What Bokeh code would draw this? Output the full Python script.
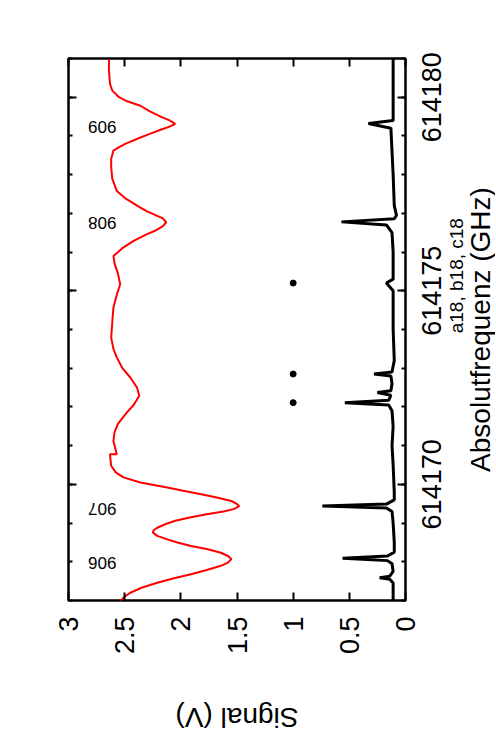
import math
from bokeh.plotting import figure
from bokeh.models import (Range1d, FixedTicker, LinearAxis, Label,
                          CustomJSTickFormatter, CustomLabelingPolicy, ColumnDataSource)
from bokeh.core.properties import value
from bokeh.embed import file_html
from bokeh.resources import INLINE

FONT = "Liberation Sans"

# Red trace (reference signal): frequency (GHz) and signal (V)
red_freq = [614166.99, 614167.10, 614167.20, 614167.33, 614167.46, 614167.57, 614167.68,
            614167.79, 614167.89, 614167.98, 614168.07, 614168.15, 614168.24, 614168.33,
            614168.41, 614168.50, 614168.58, 614168.67, 614168.76, 614168.82, 614168.88,
            614168.97, 614169.06, 614169.15, 614169.23, 614169.30, 614169.36, 614169.44,
            614169.51, 614169.57, 614169.66, 614169.75, 614169.84, 614169.92, 614170.05,
            614170.18, 614170.31, 614170.48, 614170.74, 614170.78, 614170.78, 614171.12,
            614171.35, 614171.56, 614171.75, 614171.86, 614172.05, 614172.29, 614172.50,
            614172.76, 614173.00, 614173.28, 614173.50, 614173.79, 614174.20, 614174.57,
            614174.90, 614175.17, 614175.45, 614175.70, 614175.90, 614176.10, 614176.29,
            614176.45, 614176.55, 614176.67, 614176.77, 614176.87, 614176.96, 614177.05,
            614177.15, 614177.38, 614177.58, 614177.89, 614178.19, 614178.41, 614178.62,
            614178.71, 614178.80, 614178.96, 614179.06, 614179.16, 614179.24, 614179.31,
            614179.40, 614179.50, 614179.64, 614179.78, 614179.91, 614180.00, 614180.17,
            614180.34, 614180.69, 614180.99]
red_signal = [2.54, 2.50, 2.45, 2.35, 2.21, 2.07, 1.91,
              1.77, 1.65, 1.58, 1.55, 1.58, 1.65, 1.77,
              1.91, 2.03, 2.12, 2.21, 2.25, 2.24, 2.21,
              2.14, 2.05, 1.91, 1.77, 1.62, 1.53, 1.48,
              1.51, 1.55, 1.68, 1.83, 1.99, 2.12, 2.36,
              2.51, 2.58, 2.62, 2.63, 2.63, 2.57, 2.60,
              2.59, 2.56, 2.51, 2.48, 2.42, 2.37, 2.39,
              2.45, 2.52, 2.57, 2.60, 2.62, 2.61, 2.60,
              2.57, 2.54, 2.56, 2.59, 2.60, 2.52, 2.42,
              2.31, 2.23, 2.16, 2.13, 2.16, 2.23, 2.30,
              2.36, 2.49, 2.57, 2.61, 2.62, 2.62, 2.60,
              2.55, 2.49, 2.36, 2.27, 2.18, 2.10, 2.05,
              2.10, 2.18, 2.28, 2.36, 2.49, 2.55, 2.61,
              2.63, 2.64, 2.64]

# Black trace (spectrum)
spec_freq = [614167.00, 614167.45, 614167.55, 614167.59, 614167.63, 614167.75, 614167.95,
             614168.03, 614168.09, 614168.15, 614168.25, 614168.50, 614169.00, 614169.30,
             614169.39, 614169.44, 614169.49, 614169.60, 614169.80, 614170.50, 614171.00,
             614171.50, 614171.90, 614172.05, 614172.11, 614172.17, 614172.30, 614172.37,
             614172.42, 614172.60, 614172.80, 614172.85, 614172.90, 614173.20, 614174.00,
             614175.00, 614175.20, 614175.30, 614176.00, 614176.50, 614176.70, 614176.78,
             614176.86, 614176.95, 614177.20, 614178.00, 614179.20, 614179.32, 614179.40,
             614180.00, 614181.00]
spec_signal = [0.11, 0.11, 0.14, 0.23, 0.14, 0.11, 0.12,
               0.16, 0.56, 0.16, 0.10, 0.10, 0.11, 0.12,
               0.17, 0.74, 0.17, 0.10, 0.10, 0.11, 0.12,
               0.11, 0.12, 0.15, 0.54, 0.15, 0.13, 0.25,
               0.13, 0.12, 0.13, 0.28, 0.12, 0.10, 0.11,
               0.11, 0.17, 0.11, 0.11, 0.12, 0.17, 0.57,
               0.10, 0.08, 0.10, 0.11, 0.13, 0.33, 0.11,
               0.11, 0.11]

# Marker dots
dot_freq = [614172.11, 614172.85, 614175.20]
dot_signal = [1.0, 1.0, 1.0]

# Mode labels
mode_labels = ["906", "907", "908", "909"]
mode_freq = [614167.98, 614169.36, 614176.74, 614179.24]
mode_signal = [2.70, 2.70, 2.70, 2.70]

# Axis ticks and texts
sig_ticks = [0, 0.5, 1, 1.5, 2, 2.5, 3]
sig_tick_labels = ["0", "0.5", "1", "1.5", "2", "2.5", "3"]
freq_major = [614170, 614175, 614180]
freq_minor = [614167, 614168, 614169, 614170, 614171, 614172, 614173, 614174,
              614175, 614176, 614177, 614178, 614179, 614180, 614181]
title_text = "a18, b18, c18"
x_title = "Signal (V)"
y_title = "Absolutfrequenz (GHz)"

F_MIN, F_MAX = 614167, 614181
S_MIN, S_MAX = 0, 3
TICK_PX = 27

W, H = 495, 736
B_LEFT, B_TOP, B_RIGHT, B_BOTTOM = 68, 58, 90, 136
frame_w = W - B_LEFT - B_RIGHT
frame_h = H - B_TOP - B_BOTTOM
px_per_ghz = frame_h / (F_MAX - F_MIN)
px_per_volt = frame_w / (S_MAX - S_MIN)
half_label = 6 * 0.556 * TICK_PX / 2 / px_per_ghz   # half length of a rotated tick label, GHz

p = figure(width=W, height=H, output_backend="svg", toolbar_location=None,
           x_range=Range1d(S_MAX, S_MIN), y_range=Range1d(F_MIN, F_MAX),
           x_axis_location="below", y_axis_location="right",
           min_border_left=B_LEFT, min_border_right=B_RIGHT,
           min_border_top=B_TOP, min_border_bottom=B_BOTTOM)
p.xgrid.visible = False
p.ygrid.visible = False
p.outline_line_color = "black"
p.outline_line_width = 2.5
p.background_fill_color = "white"
p.border_fill_color = "white"

no_labels = CustomLabelingPolicy(code="return []")


def base_style(ax):
    ax.axis_line_color = None
    ax.major_tick_line_color = "black"
    ax.major_tick_line_width = 2
    ax.minor_tick_line_color = "black"
    ax.minor_tick_line_width = 2
    ax.major_tick_out = 0
    ax.minor_tick_out = 0
    ax.major_tick_in = 8
    ax.minor_tick_in = 4
    ax.major_label_text_font = FONT
    ax.major_label_text_color = "black"


def hide_labels(ax):
    ax.major_label_policy = no_labels
    ax.major_label_text_font_size = "0px"
    ax.major_label_standoff = 0


# bottom: signal axis
xb = p.xaxis[0]
base_style(xb)
xb.ticker = FixedTicker(ticks=sig_ticks, minor_ticks=[])
xb.major_label_overrides = {t: l for t, l in zip(sig_ticks, sig_tick_labels)}
xb.major_label_orientation = math.pi / 2
xb.major_label_standoff = 16
xb.major_label_text_font_size = f"{TICK_PX}px"

# top mirror ticks
xa = LinearAxis(ticker=FixedTicker(ticks=sig_ticks, minor_ticks=[]))
base_style(xa)
hide_labels(xa)
p.add_layout(xa, "above")

# right: tick marks only
yr = p.yaxis[0]
base_style(yr)
yr.ticker = FixedTicker(ticks=freq_major, minor_ticks=freq_minor)
hide_labels(yr)

# right: tick labels (centred on their ticks)
ylab = LinearAxis(ticker=FixedTicker(ticks=[t - half_label for t in freq_major], minor_ticks=[]),
                  formatter=CustomJSTickFormatter(args=dict(shift=half_label),
                                                  code="return Math.round(tick + shift).toString()"))
base_style(ylab)
ylab.major_tick_line_color = None
ylab.minor_tick_line_color = None
ylab.major_tick_in = 0
ylab.minor_tick_in = 0
ylab.major_label_orientation = math.pi / 2
ylab.major_label_standoff = 26
ylab.major_label_text_font_size = f"{TICK_PX}px"
p.add_layout(ylab, "right")

# left mirror ticks
yl = LinearAxis(ticker=FixedTicker(ticks=freq_major, minor_ticks=freq_minor))
base_style(yl)
hide_labels(yl)
p.add_layout(yl, "left")

p.line(x=red_signal, y=red_freq, line_color="#ff0000", line_width=2)
p.line(x=spec_signal, y=spec_freq, line_color="black", line_width=3)
p.scatter(x=dot_signal, y=dot_freq, size=6, color="black")

src = ColumnDataSource(dict(x=mode_signal, y=mode_freq, t=mode_labels))
p.text(x="x", y="y", text="t", source=src, angle=math.pi, text_font=value(FONT),
       text_font_size="17px", text_align="center", text_baseline="middle", text_color="black")

# titles: placed beside the frame (screen offsets converted to data units)
f_mid = (F_MIN + F_MAX) / 2
s_mid = (S_MIN + S_MAX) / 2
lab_y = Label(x=S_MIN - 75 / px_per_volt, y=f_mid, text=y_title, angle=math.pi / 2,
              text_align="center", text_baseline="middle", text_font=FONT,
              text_font_size="28px", text_color="black")
lab_t = Label(x=S_MIN - 51 / px_per_volt, y=f_mid + 1.39, text=title_text, angle=math.pi / 2,
              text_align="center", text_baseline="middle", text_font=FONT,
              text_font_size="19px", text_color="black")
lab_x = Label(x=s_mid, y=F_MIN - 117 / px_per_ghz, text=x_title, angle=math.pi,
              text_align="center", text_baseline="middle", text_font=FONT,
              text_font_size="28px", text_color="black")
p.add_layout(lab_y, "left")
p.add_layout(lab_t, "left")
p.add_layout(lab_x, "above")

open("out.html", "w").write(file_html(p, INLINE))
